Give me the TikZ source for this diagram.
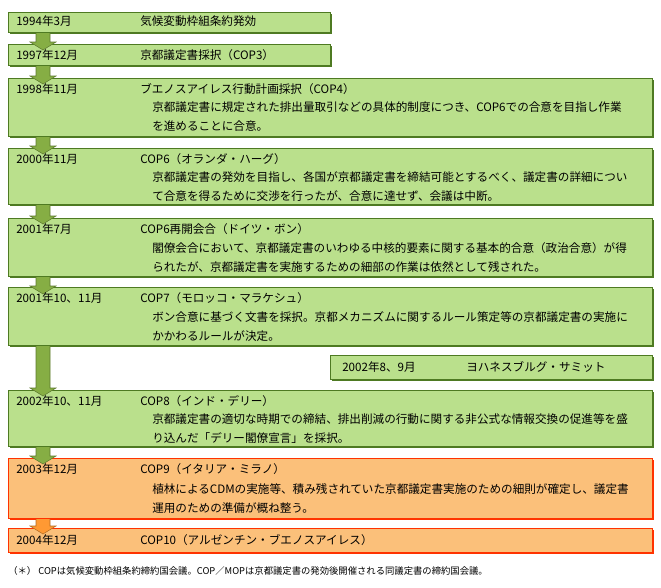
\documentclass[tikz,border=0pt]{standalone}
\usepackage{fontspec}
\setmainfont{Noto Sans CJK JP}
\usetikzlibrary{shadows}
\definecolor{gfill}{HTML}{BAE08C}
\definecolor{gline}{HTML}{4E7A22}
\definecolor{garr}{HTML}{86AE44}
\definecolor{ofill}{HTML}{FBC07A}
\definecolor{oline}{HTML}{FF3300}
\definecolor{oarr}{HTML}{FF9933}
\tikzset{
 gbox/.style={draw=gline,fill=gfill,line width=0.75pt,drop shadow={shadow xshift=1.3pt,shadow yshift=-1.3pt,fill=gline,opacity=1}},
 obox/.style={draw=oline,fill=ofill,line width=0.75pt,drop shadow={shadow xshift=1.3pt,shadow yshift=-1.3pt,fill=oline,opacity=1}},
 txt/.style={anchor=west,inner sep=0pt,font=\fontsize{8.7pt}{10pt}\selectfont},
}
\newcommand{\darr}[3]{% top y, bottom y, color
 \fill[#3] (36,#1) -- (36,#2-8) -- (30,#2-8) -- (43,#2) -- (56,#2-8) -- (50,#2-8) -- (50,#1) -- cycle;
 \draw[#3!70!black,line width=0.4pt] (36,#1) -- (36,#2-8) -- (30,#2-8) -- (43,#2) -- (56,#2-8) -- (50,#2-8) -- (50,#1);
}
\begin{document}
\begin{tikzpicture}[x=0.75pt,y=-0.75pt]
\useasboundingbox (0,0) rectangle (661,587);
\path[gbox] (8,12) rectangle (330,32);
\path[gbox] (8,44) rectangle (330,65);
\path[gbox] (8,78) rectangle (652,136);
\path[gbox] (8,148) rectangle (652,204);
\path[gbox] (8,218) rectangle (652,276);
\path[gbox] (8,287) rectangle (652,345);
\path[gbox] (330,355) rectangle (652,379);
\path[gbox] (8,390) rectangle (652,446);
\path[obox] (8,458) rectangle (652,518);
\path[obox] (8,528) rectangle (652,552);
% arrows
\darr{33}{50}{garr}
\darr{66}{84}{garr}
\darr{137}{154}{garr}
\darr{205}{224}{garr}
\darr{277}{294}{garr}
\darr{346}{396}{garr}
\darr{447}{464}{garr}
\darr{519}{534}{oarr}
% texts
\node[txt] (d1) at (16,21) {1994年3月};
\node[txt] (t1) at (140,21) {気候変動枠組条約発効};
\node[txt] (d2) at (16,55) {1997年12月};
\node[txt] (t2) at (140,55) {京都議定書採択（COP3）};
\node[txt] (d3) at (16,89) {1998年11月};
\node[txt] (t3) at (140,89) {ブエノスアイレス行動計画採択（COP4）};
\node[txt] (u3) at (152,107) {京都議定書に規定された排出量取引などの具体的制度につき、COP6での合意を目指し作業};
\node[txt] (v3) at (152,126) {を進めることに合意。};
\node[txt] (d4) at (16,159) {2000年11月};
\node[txt] (t4) at (140,159) {COP6（オランダ・ハーグ）};
\node[txt] (u4) at (152,177) {京都議定書の発効を目指し、各国が京都議定書を締結可能とするべく、議定書の詳細につい};
\node[txt] (v4) at (152,196) {て合意を得るために交渉を行ったが、合意に達せず、会議は中断。};
\node[txt] (d5) at (16,229) {2001年7月};
\node[txt] (t5) at (140,229) {COP6再開会合（ドイツ・ボン）};
\node[txt] (u5) at (152,248) {閣僚会合において、京都議定書のいわゆる中核的要素に関する基本的合意（政治合意）が得};
\node[txt] (v5) at (152,267) {られたが、京都議定書を実施するための細部の作業は依然として残された。};
\node[txt] (d6) at (16,298) {2001年10、11月};
\node[txt] (t6) at (140,298) {COP7（モロッコ・マラケシュ）};
\node[txt] (u6) at (152,317) {ボン合意に基づく文書を採択。京都メカニズムに関するルール策定等の京都議定書の実施に};
\node[txt] (v6) at (152,336) {かかわるルールが決定。};
\node[txt] (d7) at (342,367) {2002年8、9月};
\node[txt] (t7) at (466,367) {ヨハネスブルグ・サミット};
\node[txt] (d8) at (16,401) {2002年10、11月};
\node[txt] (t8) at (140,401) {COP8（インド・デリー）};
\node[txt] (u8) at (152,419) {京都議定書の適切な時期での締結、排出削減の行動に関する非公式な情報交換の促進等を盛};
\node[txt] (v8) at (152,438) {り込んだ「デリー閣僚宣言」を採択。};
\node[txt] (d9) at (16,469) {2003年12月};
\node[txt] (t9) at (140,469) {COP9（イタリア・ミラノ）};
\node[txt] (u9) at (152,489) {植林によるCDMの実施等、積み残されていた京都議定書実施のための細則が確定し、議定書};
\node[txt] (v9) at (152,508) {運用のための準備が概ね整う。};
\node[txt] (d10) at (16,540) {2004年12月};
\node[txt] (t10) at (140,540) {COP10（アルゼンチン・ブエノスアイレス）};
\node[txt,font=\fontsize{7pt}{8pt}\selectfont] (fn) at (8,571) {（＊） COPは気候変動枠組条約締約国会議。COP／MOPは京都議定書の発効後開催される同議定書の締約国会議。};
\end{tikzpicture}
\end{document}
